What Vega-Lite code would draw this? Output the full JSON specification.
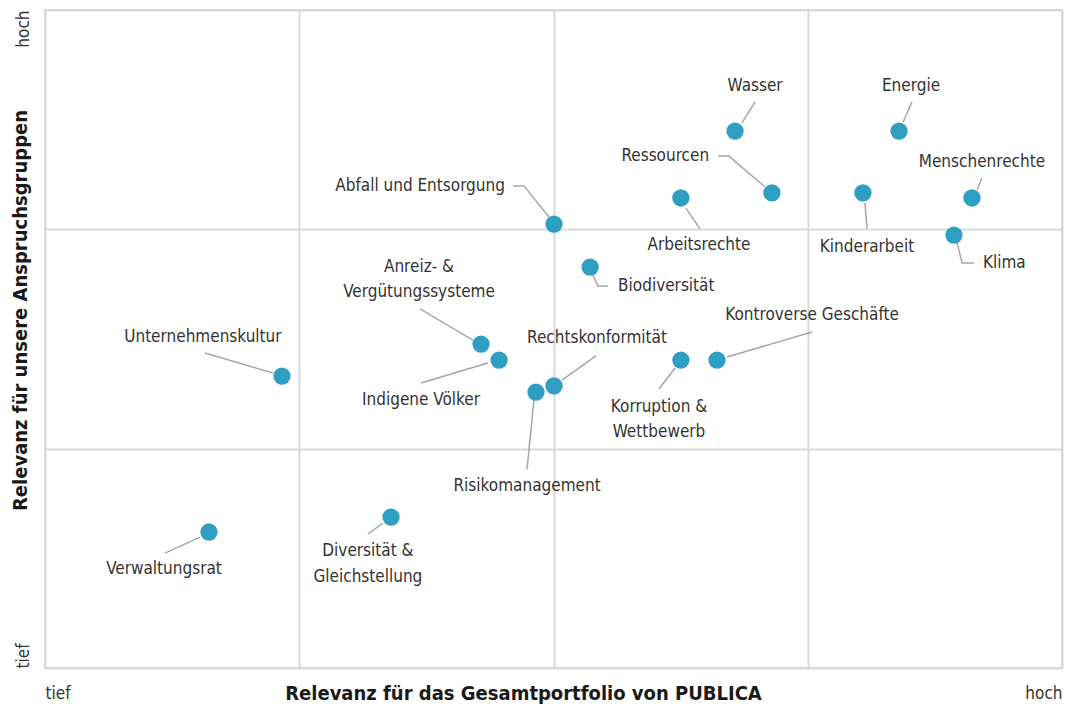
{
  "$schema": "https://vega.github.io/schema/vega-lite/v6.json",
  "width": 1017,
  "height": 658,
  "padding": {"left": 45, "top": 10, "right": 5, "bottom": 38},
  "autosize": {"type": "none"},
  "config": {
    "font": "DejaVu Sans Condensed, Roboto, sans-serif",
    "view": {"stroke": "#d9d9d9", "strokeWidth": 2},
    "axis": {"gridColor": "#d9d9d9", "gridWidth": 2, "domain": false, "ticks": false, "tickSize": 0}
  },
  "datasets": {
    "points": [
      {"name": "Wasser", "x": 2.714, "y": 2.448},
      {"name": "Energie", "x": 3.359, "y": 2.448},
      {"name": "Ressourcen", "x": 2.859, "y": 2.166},
      {"name": "Arbeitsrechte", "x": 2.501, "y": 2.143},
      {"name": "Kinderarbeit", "x": 3.217, "y": 2.166},
      {"name": "Menschenrechte", "x": 3.646, "y": 2.143},
      {"name": "Klima", "x": 3.575, "y": 1.974},
      {"name": "Abfall und Entsorgung", "x": 2.002, "y": 2.024},
      {"name": "Biodiversität", "x": 2.144, "y": 1.828},
      {"name": "Anreiz- & Vergütungssysteme", "x": 1.715, "y": 1.477},
      {"name": "Indigene Völker", "x": 1.786, "y": 1.404},
      {"name": "Rechtskonformität", "x": 2.002, "y": 1.286},
      {"name": "Risikomanagement", "x": 1.931, "y": 1.258},
      {"name": "Korruption & Wettbewerb", "x": 2.501, "y": 1.404},
      {"name": "Kontroverse Geschäfte", "x": 2.643, "y": 1.404},
      {"name": "Unternehmenskultur", "x": 0.932, "y": 1.331},
      {"name": "Verwaltungsrat", "x": 0.645, "y": 0.62},
      {"name": "Diversität & Gleichstellung", "x": 1.361, "y": 0.688}
    ],
    "labels": [
      {"text": "Wasser", "x": 2.793, "y": 2.654, "align": "center"},
      {"text": "Energie", "x": 3.406, "y": 2.654, "align": "center"},
      {"text": "Ressourcen", "x": 2.612, "y": 2.334, "align": "right"},
      {"text": "Arbeitsrechte", "x": 2.572, "y": 1.929, "align": "center"},
      {"text": "Abfall und Entsorgung", "x": 1.809, "y": 2.198, "align": "right"},
      {"text": "Kinderarbeit", "x": 3.233, "y": 1.919, "align": "center"},
      {"text": "Menschenrechte", "x": 3.685, "y": 2.307, "align": "center"},
      {"text": "Klima", "x": 3.689, "y": 1.847, "align": "left"},
      {"text": "Biodiversität", "x": 2.254, "y": 1.742, "align": "left"},
      {"text": "Anreiz- &", "x": 1.471, "y": 1.828, "align": "center"},
      {"text": "Vergütungssysteme", "x": 1.471, "y": 1.714, "align": "center"},
      {"text": "Indigene Völker", "x": 1.479, "y": 1.222, "align": "center"},
      {"text": "Rechtskonformität", "x": 2.171, "y": 1.505, "align": "center"},
      {"text": "Risikomanagement", "x": 1.896, "y": 0.83, "align": "center"},
      {"text": "Korruption &", "x": 2.415, "y": 1.19, "align": "center"},
      {"text": "Wettbewerb", "x": 2.415, "y": 1.076, "align": "center"},
      {"text": "Kontroverse Geschäfte", "x": 3.017, "y": 1.609, "align": "center"},
      {"text": "Unternehmenskultur", "x": 0.621, "y": 1.509, "align": "center"},
      {"text": "Verwaltungsrat", "x": 0.468, "y": 0.451, "align": "center"},
      {"text": "Diversität &", "x": 1.27, "y": 0.533, "align": "center"},
      {"text": "Gleichstellung", "x": 1.27, "y": 0.415, "align": "center"}
    ],
    "leaders": [
      {"name": "Wasser", "o": 1, "x": 2.741, "y": 2.485},
      {"name": "Wasser", "o": 2, "x": 2.793, "y": 2.581},
      {"name": "Energie", "o": 1, "x": 3.375, "y": 2.489},
      {"name": "Energie", "o": 2, "x": 3.41, "y": 2.581},
      {"name": "Ressourcen", "o": 1, "x": 2.647, "y": 2.334},
      {"name": "Ressourcen", "o": 2, "x": 2.69, "y": 2.334},
      {"name": "Ressourcen", "o": 3, "x": 2.831, "y": 2.194},
      {"name": "Arbeitsrechte", "o": 1, "x": 2.521, "y": 2.097},
      {"name": "Arbeitsrechte", "o": 2, "x": 2.576, "y": 2.002},
      {"name": "Abfall", "o": 1, "x": 1.841, "y": 2.198},
      {"name": "Abfall", "o": 2, "x": 1.884, "y": 2.198},
      {"name": "Abfall", "o": 3, "x": 1.982, "y": 2.056},
      {"name": "Kinderarbeit", "o": 1, "x": 3.225, "y": 2.12},
      {"name": "Kinderarbeit", "o": 2, "x": 3.233, "y": 2.002},
      {"name": "Menschenrechte", "o": 1, "x": 3.666, "y": 2.179},
      {"name": "Menschenrechte", "o": 2, "x": 3.685, "y": 2.234},
      {"name": "Klima", "o": 1, "x": 3.587, "y": 1.938},
      {"name": "Klima", "o": 2, "x": 3.607, "y": 1.847},
      {"name": "Klima", "o": 3, "x": 3.654, "y": 1.847},
      {"name": "Biodiversität", "o": 1, "x": 2.155, "y": 1.792},
      {"name": "Biodiversität", "o": 2, "x": 2.175, "y": 1.742},
      {"name": "Biodiversität", "o": 3, "x": 2.214, "y": 1.742},
      {"name": "Anreiz", "o": 1, "x": 1.475, "y": 1.637},
      {"name": "Anreiz", "o": 2, "x": 1.683, "y": 1.495},
      {"name": "Indigene", "o": 1, "x": 1.742, "y": 1.391},
      {"name": "Indigene", "o": 2, "x": 1.479, "y": 1.299},
      {"name": "Rechtskonformität", "o": 1, "x": 2.167, "y": 1.423},
      {"name": "Rechtskonformität", "o": 2, "x": 2.033, "y": 1.313},
      {"name": "Risikomanagement", "o": 1, "x": 1.923, "y": 1.222},
      {"name": "Risikomanagement", "o": 2, "x": 1.896, "y": 0.907},
      {"name": "Korruption", "o": 1, "x": 2.478, "y": 1.368},
      {"name": "Korruption", "o": 2, "x": 2.415, "y": 1.272},
      {"name": "Kontroverse", "o": 1, "x": 2.682, "y": 1.418},
      {"name": "Kontroverse", "o": 2, "x": 3.017, "y": 1.532},
      {"name": "Unternehmenskultur", "o": 1, "x": 0.629, "y": 1.436},
      {"name": "Unternehmenskultur", "o": 2, "x": 0.897, "y": 1.345},
      {"name": "Verwaltungsrat", "o": 1, "x": 0.61, "y": 0.597},
      {"name": "Verwaltungsrat", "o": 2, "x": 0.472, "y": 0.524},
      {"name": "Diversität", "o": 1, "x": 1.329, "y": 0.661},
      {"name": "Diversität", "o": 2, "x": 1.27, "y": 0.611}
    ]
  },
  "encoding": {
    "x": {
      "field": "x", "type": "quantitative",
      "scale": {"domain": [0, 4], "nice": false, "zero": false},
      "axis": {
        "values": [0, 1, 2, 3, 4],
        "labelExpr": "datum.value == 0 ? 'tief' : (datum.value == 4 ? 'hoch' : '')",
        "labelFlush": true,
        "labelFontSize": 17,
        "labelColor": "#333333",
        "labelBaseline": "alphabetic",
        "labelPadding": 30,
        "title": "Relevanz für das Gesamtportfolio von PUBLICA",
        "titleFontSize": 20,
        "titleFontWeight": "bold",
        "titleColor": "#1a1a1a",
        "titleX": 478,
        "titleY": 31,
        "titleBaseline": "alphabetic"
      }
    },
    "y": {
      "field": "y", "type": "quantitative",
      "scale": {"domain": [0, 3], "nice": false, "zero": false},
      "axis": {
        "values": [0, 1, 2, 3],
        "labelExpr": "datum.value == 0 ? 'tief' : (datum.value == 3 ? 'hoch' : '')",
        "labelAngle": -90,
        "labelAlign": {"condition": {"test": "datum.value == 3", "value": "right"}, "value": "left"},
        "labelBaseline": "alphabetic",
        "labelPadding": 17,
        "labelFontSize": 17,
        "labelColor": "#333333",
        "title": "Relevanz für unsere Anspruchsgruppen",
        "titleFontSize": 20,
        "titleFontWeight": "bold",
        "titleColor": "#1a1a1a",
        "titleAngle": -90,
        "titleX": -19,
        "titleY": 300,
        "titleBaseline": "alphabetic"
      }
    }
  },
  "layer": [
    {
      "data": {"name": "leaders"},
      "mark": {"type": "line", "color": "#a6a6a6", "strokeWidth": 1.5},
      "encoding": {"detail": {"field": "name"}, "order": {"field": "o"}}
    },
    {
      "data": {"name": "points"},
      "mark": {"type": "circle", "color": "#2e9fc3", "opacity": 1, "size": 300}
    },
    {
      "data": {"name": "labels"},
      "transform": [{"filter": "datum.align == 'center'"}],
      "mark": {"type": "text", "fontSize": 17, "color": "#333333", "baseline": "middle", "align": "center"},
      "encoding": {"text": {"field": "text"}}
    },
    {
      "data": {"name": "labels"},
      "transform": [{"filter": "datum.align == 'left'"}],
      "mark": {"type": "text", "fontSize": 17, "color": "#333333", "baseline": "middle", "align": "left"},
      "encoding": {"text": {"field": "text"}}
    },
    {
      "data": {"name": "labels"},
      "transform": [{"filter": "datum.align == 'right'"}],
      "mark": {"type": "text", "fontSize": 17, "color": "#333333", "baseline": "middle", "align": "right"},
      "encoding": {"text": {"field": "text"}}
    }
  ]
}
